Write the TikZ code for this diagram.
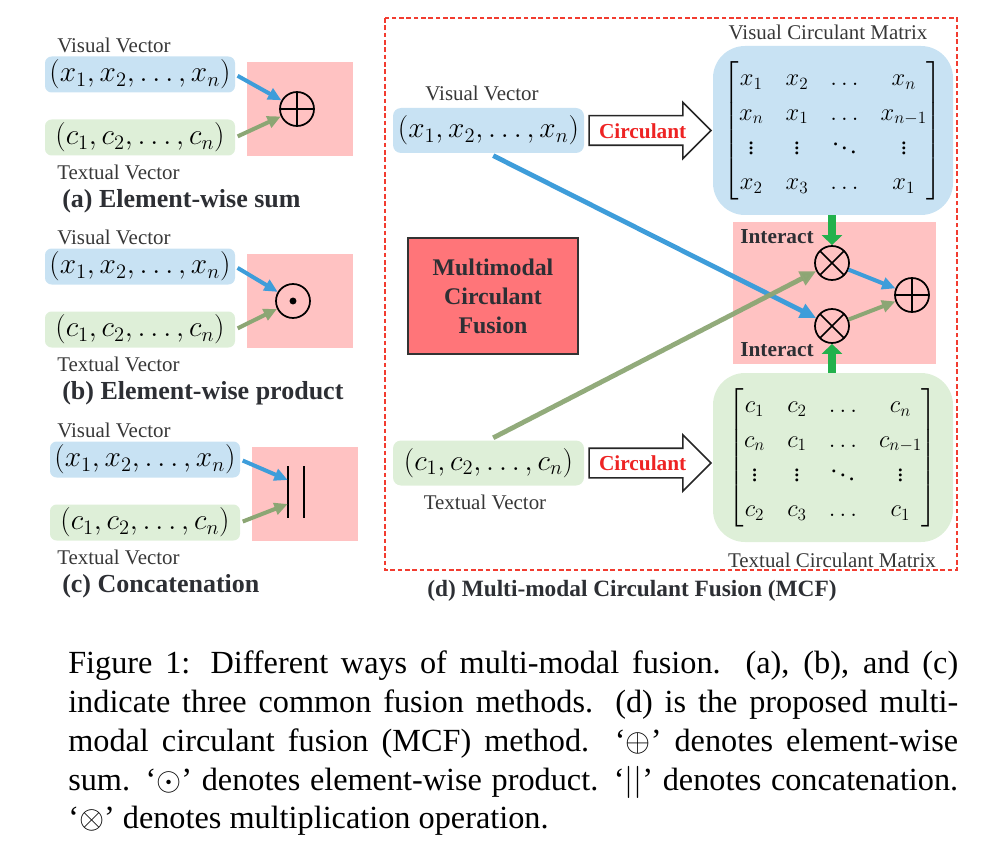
\RequirePackage{fix-cm}
\documentclass[tikz,border=0pt]{standalone}
\usepackage{amsmath}
\usepackage[no-math]{fontspec}
\setmainfont{Liberation Serif}
\usepackage{tikz}
\usetikzlibrary{arrows.meta,shapes.arrows,calc,positioning}

\definecolor{visBlue}{RGB}{200,226,243}
\definecolor{txtGreen}{RGB}{222,239,216}
\definecolor{fusePink}{RGB}{255,194,194}
\definecolor{arrBlue}{RGB}{62,157,218}
\definecolor{arrOlive}{RGB}{140,166,116}
\definecolor{arrGreen}{RGB}{34,177,76}
\definecolor{mcfRed}{RGB}{255,117,121}
\definecolor{frameRed}{RGB}{242,60,48}
\definecolor{circRed}{RGB}{238,35,35}
\definecolor{inkGray}{RGB}{45,47,52}
\definecolor{lblGray}{RGB}{55,55,55}
\setlength{\arraycolsep}{8.3pt}
\renewcommand{\arraystretch}{1.05}

\begin{document}
\begin{tikzpicture}[x=0.75pt,y=-0.75pt]%%fusion
        \useasboundingbox (0,0) rectangle (989,845);

        \tikzstyle{lbl}     = [font=\fontsize{15.7}{18}\selectfont, text=lblGray, inner sep=0pt]
        \tikzstyle{title}   = [font=\fontsize{19.5}{22}\selectfont\bfseries, text=inkGray, inner sep=0pt]
        \tikzstyle{vecbox}  = [rounded corners=5pt, minimum width=142.5pt, minimum height=27pt, inner sep=0pt, font=\fontsize{22}{26}\selectfont]
        \tikzstyle{matbox}  = [rounded corners=24pt, minimum width=180pt, minimum height=126.75pt, inner sep=0pt, font=\fontsize{18.4}{24.8}\selectfont]
        \tikzstyle{oper}    = [circle, draw, line width=1.3pt, minimum size=25.5pt, inner sep=0pt]
        \tikzstyle{sumop}   = [oper, path picture={\draw[line width=1.1pt] (path picture bounding box.north) -- (path picture bounding box.south) (path picture bounding box.west) -- (path picture bounding box.east);}]
        \tikzstyle{mulop}   = [oper, path picture={\draw[line width=1.1pt] (path picture bounding box.north west) -- (path picture bounding box.south east) (path picture bounding box.south west) -- (path picture bounding box.north east);}]
        \tikzstyle{dotop}   = [oper, path picture={\fill (path picture bounding box.center) circle (2.6pt);}]
        \tikzstyle{catop}   = [minimum width=12pt, minimum height=38pt, inner sep=0pt]
        \tikzstyle{bluearr} = [draw=arrBlue, line width=3pt, -{Triangle[length=10pt,width=9pt]}]
        \tikzstyle{olivearr}= [draw=arrOlive, line width=3pt, -{Triangle[length=10pt,width=9pt]}]
        \tikzstyle{longblue}= [draw=arrBlue, line width=3.6pt, -{Triangle[length=12pt,width=11pt]}]
        \tikzstyle{longolive}=[draw=arrOlive, line width=3.6pt, -{Triangle[length=12pt,width=11pt]}]
        \tikzstyle{pusharr} = [draw=arrGreen, line width=6.5pt, -{Triangle[length=7.5pt,width=15pt]}]
        \tikzstyle{circarrow}=[single arrow, draw=black!85, line width=1.2pt, fill=white, minimum height=91.5pt, single arrow head extend=10pt, text height=11.5pt, text depth=0pt, inner ysep=4.75pt, inner xsep=2pt, font=\fontsize{16}{18}\selectfont\bfseries, text=circRed]

        % (a), (b), (c)
        \foreach \p/\dy/\dx/\ttl in {a/0/0/Element-wise sum, b/192/0/Element-wise product, c/385/5/Concatenation}
        {
                \fill[fusePink] (247+\dx,62+\dy) rectangle (353+\dx,156+\dy);
                \node[lbl, anchor=west] (vl\p) at (57,45+\dy) {Visual Vector};
                \node[vecbox, fill=visBlue] (vx\p) at (140+\dx,74.5+\dy) {$(x_1,x_2,\ldots,x_n)$};
                \node[vecbox, fill=txtGreen] (vc\p) at (140+\dx,137.5+\dy) {$(c_1,c_2,\ldots,c_n)$};
                \node[lbl, anchor=west] (tl\p) at (57,172+\dy) {Textual Vector};
                \node[title, anchor=west] (tt\p) at (62,201+\dy) {(\p) \ttl};
        }
        \node[sumop] (opa) at (297,109) {};
        \node[dotop] (opb) at (293,301) {};
        \node[catop] (opc) at (296,492) {};
        \draw[line width=1.5pt] (opc.north west) -- (opc.south west) (opc.north east) -- (opc.south east);
        \draw[bluearr, shorten <=2pt] (vxa.east) -- (opa);
        \draw[olivearr, shorten <=2pt] (vca.east) -- (opa);
        \draw[bluearr, shorten <=2pt] (vxb.east) -- (opb);
        \draw[olivearr, shorten <=2pt] (vcb.east) -- (opb);
        \draw[bluearr, shorten <=2pt] (vxc.east) -- ([yshift=9pt]opc.west);
        \draw[olivearr, shorten <=2pt] (vcc.east) -- ([yshift=-9pt]opc.west);

        % (d) MCF
        \draw[frameRed, line width=1.2pt, dash pattern=on 3.5pt off 2pt] (385,18) rectangle (957,570);
        \node[lbl] (vld) at (482,93) {Visual Vector};
        \node[vecbox, fill=visBlue, minimum width=143.25pt, minimum height=33.75pt, rounded corners=6pt] (vxd) at (488.5,130.5) {$(x_1,x_2,\ldots,x_n)$};
        \node[vecbox, fill=txtGreen, minimum width=143.25pt, minimum height=33.75pt, rounded corners=6pt] (vcd) at (488.5,463) {$(c_1,c_2,\ldots,c_n)$};
        \node[lbl] (tld) at (485,502) {Textual Vector};
        \node[circarrow, anchor=tail] (cirV) at ([xshift=3pt]vxd.east) {Circulant};
        \node[circarrow, anchor=tail] (cirT) at ([xshift=3pt]vcd.east) {Circulant};

        \node[lbl] (mlV) at (828,32) {Visual Circulant Matrix};
        \node[matbox, fill=visBlue] (matV) at (833,130.5) {$\begin{bmatrix} x_1 & x_2 & \ldots & x_n\\ x_n & x_1 & \ldots & x_{n-1}\\ \vdots & \vdots & \ddots & \vdots\\ x_2 & x_3 & \ldots & x_1 \end{bmatrix}$};
        \node[matbox, fill=txtGreen] (matT) at (833,457.5) {$\begin{bmatrix} c_1 & c_2 & \ldots & c_n\\ c_n & c_1 & \ldots & c_{n-1}\\ \vdots & \vdots & \ddots & \vdots\\ c_2 & c_3 & \ldots & c_1 \end{bmatrix}$};
        \node[lbl] (mlT) at (832,560) {Textual Circulant Matrix};

        \fill[fusePink] (733,222) rectangle (936,364);
        \node[title, font=\fontsize{16}{18}\selectfont\bfseries, anchor=west] (itA) at (740,237) {Interact};
        \node[title, font=\fontsize{16}{18}\selectfont\bfseries, anchor=west] (itB) at (740,350) {Interact};
        \node[mulop] (mulA) at (832,263) {};
        \node[mulop] (mulB) at (832,326) {};
        \node[sumop] (sumD) at (912,295) {};
        \draw[pusharr] (matV.south -| mulA) -- (mulA);
        \draw[pusharr] (matT.north -| mulB) -- (mulB);
        \draw[bluearr] (mulA) -- (sumD);
        \draw[olivearr] (mulB) -- (sumD);
        \draw[longblue, shorten <=4pt] (vxd.south) -- (mulB);
        \draw[longolive, shorten <=4pt, opacity=0.95] (vcd.north) -- (mulA);

        \node[draw=black!80, line width=1.2pt, fill=mcfRed, minimum width=127.5pt, minimum height=87pt, align=center, font=\fontsize{17.9}{21.8}\selectfont\bfseries, text=inkGray] (mcf) at (493,296) {Multimodal\\Circulant\\Fusion};
        \node[title, font=\fontsize{17.5}{21}\selectfont\bfseries] (ttd) at (632,591) {(d) Multi-modal Circulant Fusion (MCF)};

        % caption
        \node[anchor=north west, inner sep=0pt, align=left, font=\fontsize{24.2}{29.06}\selectfont] (cap) at (68,651)
        {\makebox[667.5pt][s]{Figure 1: Different ways of multi-modal fusion. (a), (b), and (c)}\\
         \makebox[667.5pt][s]{indicate three common fusion methods. (d) is the proposed multi-}\\
         \makebox[667.5pt][s]{modal circulant fusion (MCF) method. `$\oplus$' denotes element-wise}\\
         \makebox[667.5pt][s]{sum. `$\odot$' denotes element-wise product. `$||$' denotes concatenation.}\\
         `$\otimes$' denotes multiplication operation.};
\end{tikzpicture}
\end{document}
